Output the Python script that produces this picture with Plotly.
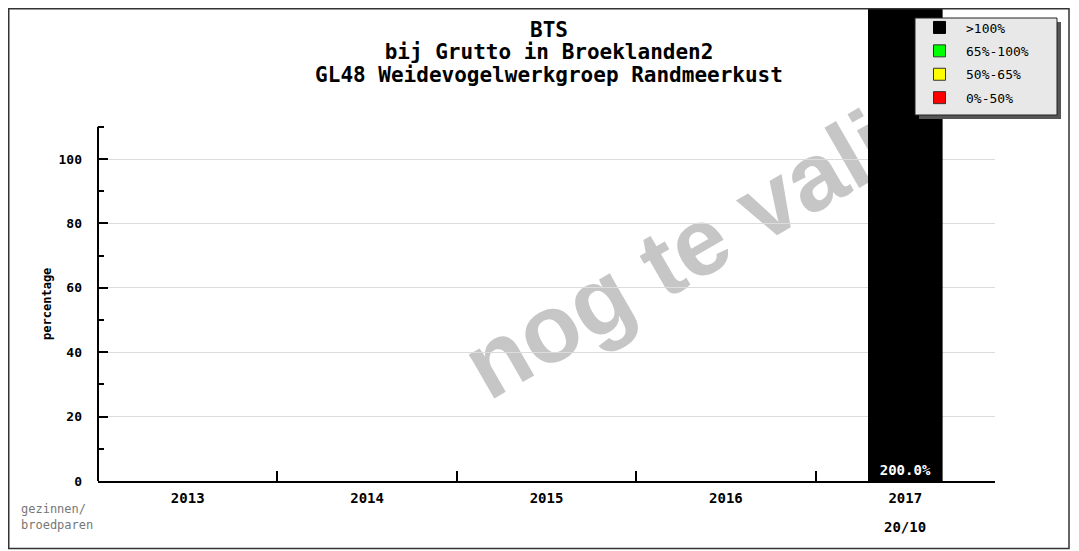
import plotly.graph_objects as go

years = ["2013", "2014", "2015", "2016", "2017"]
percentages = [None, None, None, None, 200.0]
counts = ["", "", "", "", "20/10"]
classes = [">100%", "65%-100%", "50%-65%", "0%-50%"]
class_colors = ["#000000", "#00ff00", "#ffff00", "#ff0000"]
y_major = [0, 20, 40, 60, 80, 100]
y_minor = [10, 30, 50, 70, 90, 110]
y_axis_top = 110
title_lines = ["BTS", "bij Grutto in Broeklanden2", "GL48 Weidevogelwerkgroep Randmeerkust"]
watermark = "nog te valideren"
bar_width = 0.41

# page has an 8px body margin: figure origin sits at (8, 8) of the window
OFF = 8
W, H = 1079 - OFF, 551 - OFF
AX_L, AX_R, AX_B, AX_T = 98, 995, 481, 8      # plot area edges in window pixels
ML, MR, MT, MB = AX_L - OFF, 1079 - AX_R, AX_T - OFF, 551 - AX_B
plot_w = AX_R - AX_L
plot_h = AX_B - AX_T
px_per_unit = 3.22
y_max = plot_h / px_per_unit

def px_x(p):
    return (p - AX_L) / plot_w

def px_y(p):
    return (AX_B - p) / plot_h

MONO = "DejaVu Sans Mono, Liberation Mono, monospace"

fig = go.Figure()
fig.add_trace(go.Bar(
    x=years, y=percentages, name=classes[0], legendgroup="g0",
    marker=dict(color=class_colors[0], line=dict(color="#000000", width=1)),
    width=bar_width,
    texttemplate="%{y:.1f}%", textposition="inside", insidetextanchor="start",
    textangle=0,
    insidetextfont=dict(family=MONO, size=14, color="white", weight="bold"),
))
for i in range(1, len(classes)):
    fig.add_trace(go.Bar(
        x=[None], y=[None], name=classes[i], legendgroup=f"g{i}",
        marker=dict(color=class_colors[i], line=dict(color="#333333", width=1)),
    ))

last_bar = len(years) - 1
bar_right_paper = (last_bar + 0.5 + bar_width / 2) / len(years)
wm_cx, wm_cy = 786, 181
shapes = [
    # watermark (below gridlines and bars)
    dict(type="rect", xref="paper", yref="paper",
         x0=px_x(wm_cx) - 0.001, x1=px_x(wm_cx) + 0.001,
         y0=px_y(wm_cy) - 0.001, y1=px_y(wm_cy) + 0.001,
         line=dict(width=0), fillcolor="rgba(0,0,0,0)", layer="below",
         label=dict(text=watermark, textangle=-30, textposition="middle center",
                    font=dict(family="Liberation Sans, Arial, sans-serif",
                              size=96, color="#c6c6c6", weight="bold"))),
    # white backdrop right of the last bar (hides the watermark tail, below grid)
    dict(type="rect", xref="paper", yref="paper",
         x0=bar_right_paper, x1=1.2, y0=0.0, y1=1.1,
         line=dict(width=0), fillcolor="white", layer="below"),
    # y axis line (0..110)
    dict(type="line", xref="paper", yref="y", x0=0, x1=0, y0=0, y1=y_axis_top,
         line=dict(color="#000000", width=2), layer="above"),
    # legend shadow and box
    dict(type="rect", xref="paper", yref="paper",
         x0=px_x(919), x1=px_x(1061), y0=px_y(119), y1=px_y(22),
         line=dict(width=0), fillcolor="#555555", layer="above"),
    dict(type="rect", xref="paper", yref="paper",
         x0=px_x(915), x1=px_x(1057), y0=px_y(115), y1=px_y(18),
         line=dict(color="#222222", width=1), fillcolor="#e8e8e8", layer="above"),
    # outer border
    dict(type="rect", xref="paper", yref="paper",
         x0=px_x(OFF + 0.75), x1=px_x(1069), y0=px_y(548.5), y1=px_y(OFF + 0.75),
         line=dict(color="#333333", width=1.5), fillcolor="rgba(0,0,0,0)", layer="above"),
]

annotations = [
    dict(text="percentage", textangle=-90, xref="paper", yref="y",
         x=px_x(47), y=y_axis_top / 2, xanchor="center", yanchor="middle", showarrow=False,
         font=dict(family=MONO, size=12, color="#000000", weight="bold")),
    dict(text="gezinnen/<br>broedparen", xref="paper", yref="paper",
         x=px_x(19), y=px_y(500), xanchor="left", yanchor="top", align="left",
         showarrow=False, font=dict(family=MONO, size=12, color="#777777")),
]
for idx, c in enumerate(counts):
    if c:
        annotations.append(dict(text=c, xref="x", yref="paper", x=idx, y=px_y(527),
                                showarrow=False, xanchor="center", yanchor="middle",
                                font=dict(family=MONO, size=14, color="#000000", weight="bold")))

title_text = "<br>".join(f"<span style='font-size:21px'>{t}</span>" for t in title_lines)

fig.update_layout(
    width=W, height=H,
    margin=dict(l=ML, r=MR, t=MT, b=MB, autoexpand=False),
    paper_bgcolor="white", plot_bgcolor="white",
    barmode="overlay",
    title=dict(text=title_text, x=(549 - OFF) / W, xanchor="center",
               y=1 - (37 - OFF) / H, yanchor="top", xref="container", yref="container",
               font=dict(family=MONO, size=17.3, color="#000000", weight="bold")),
    showlegend=True,
    legend=dict(x=px_x(913), y=px_y(12.5), xanchor="left", yanchor="top",
                bgcolor="rgba(0,0,0,0)", borderwidth=0,
                font=dict(family=MONO, size=13, color="#000000"),
                tracegroupgap=3.5, traceorder="grouped", itemclick=False,
                itemwidth=43),
    xaxis=dict(type="category", categoryorder="array", categoryarray=years,
               range=[-0.5, len(years) - 0.5], tickson="boundaries",
               ticks="inside", ticklen=10, tickwidth=1.5, tickcolor="#000000",
               showline=True, linecolor="#000000", linewidth=2,
               showgrid=False, zeroline=False,
               tickfont=dict(family=MONO, size=14, color="#000000", weight="bold"),
               ticklabelstandoff=3),
    yaxis=dict(range=[0, y_max], tickmode="array", tickvals=y_major,
               ticks="inside", ticklen=10, tickwidth=1.5, tickcolor="#000000",
               showline=False, zeroline=False,
               showgrid=True, gridcolor="#dcdcdc", gridwidth=1,
               minor=dict(tickmode="array", tickvals=y_minor, ticks="inside",
                          ticklen=6, tickwidth=1.5, tickcolor="#000000", showgrid=False),
               tickfont=dict(family=MONO, size=13, color="#000000", weight="bold"),
               ticklabelstandoff=15),
    shapes=shapes,
    annotations=annotations,
)

fig.write_html("out.html")
